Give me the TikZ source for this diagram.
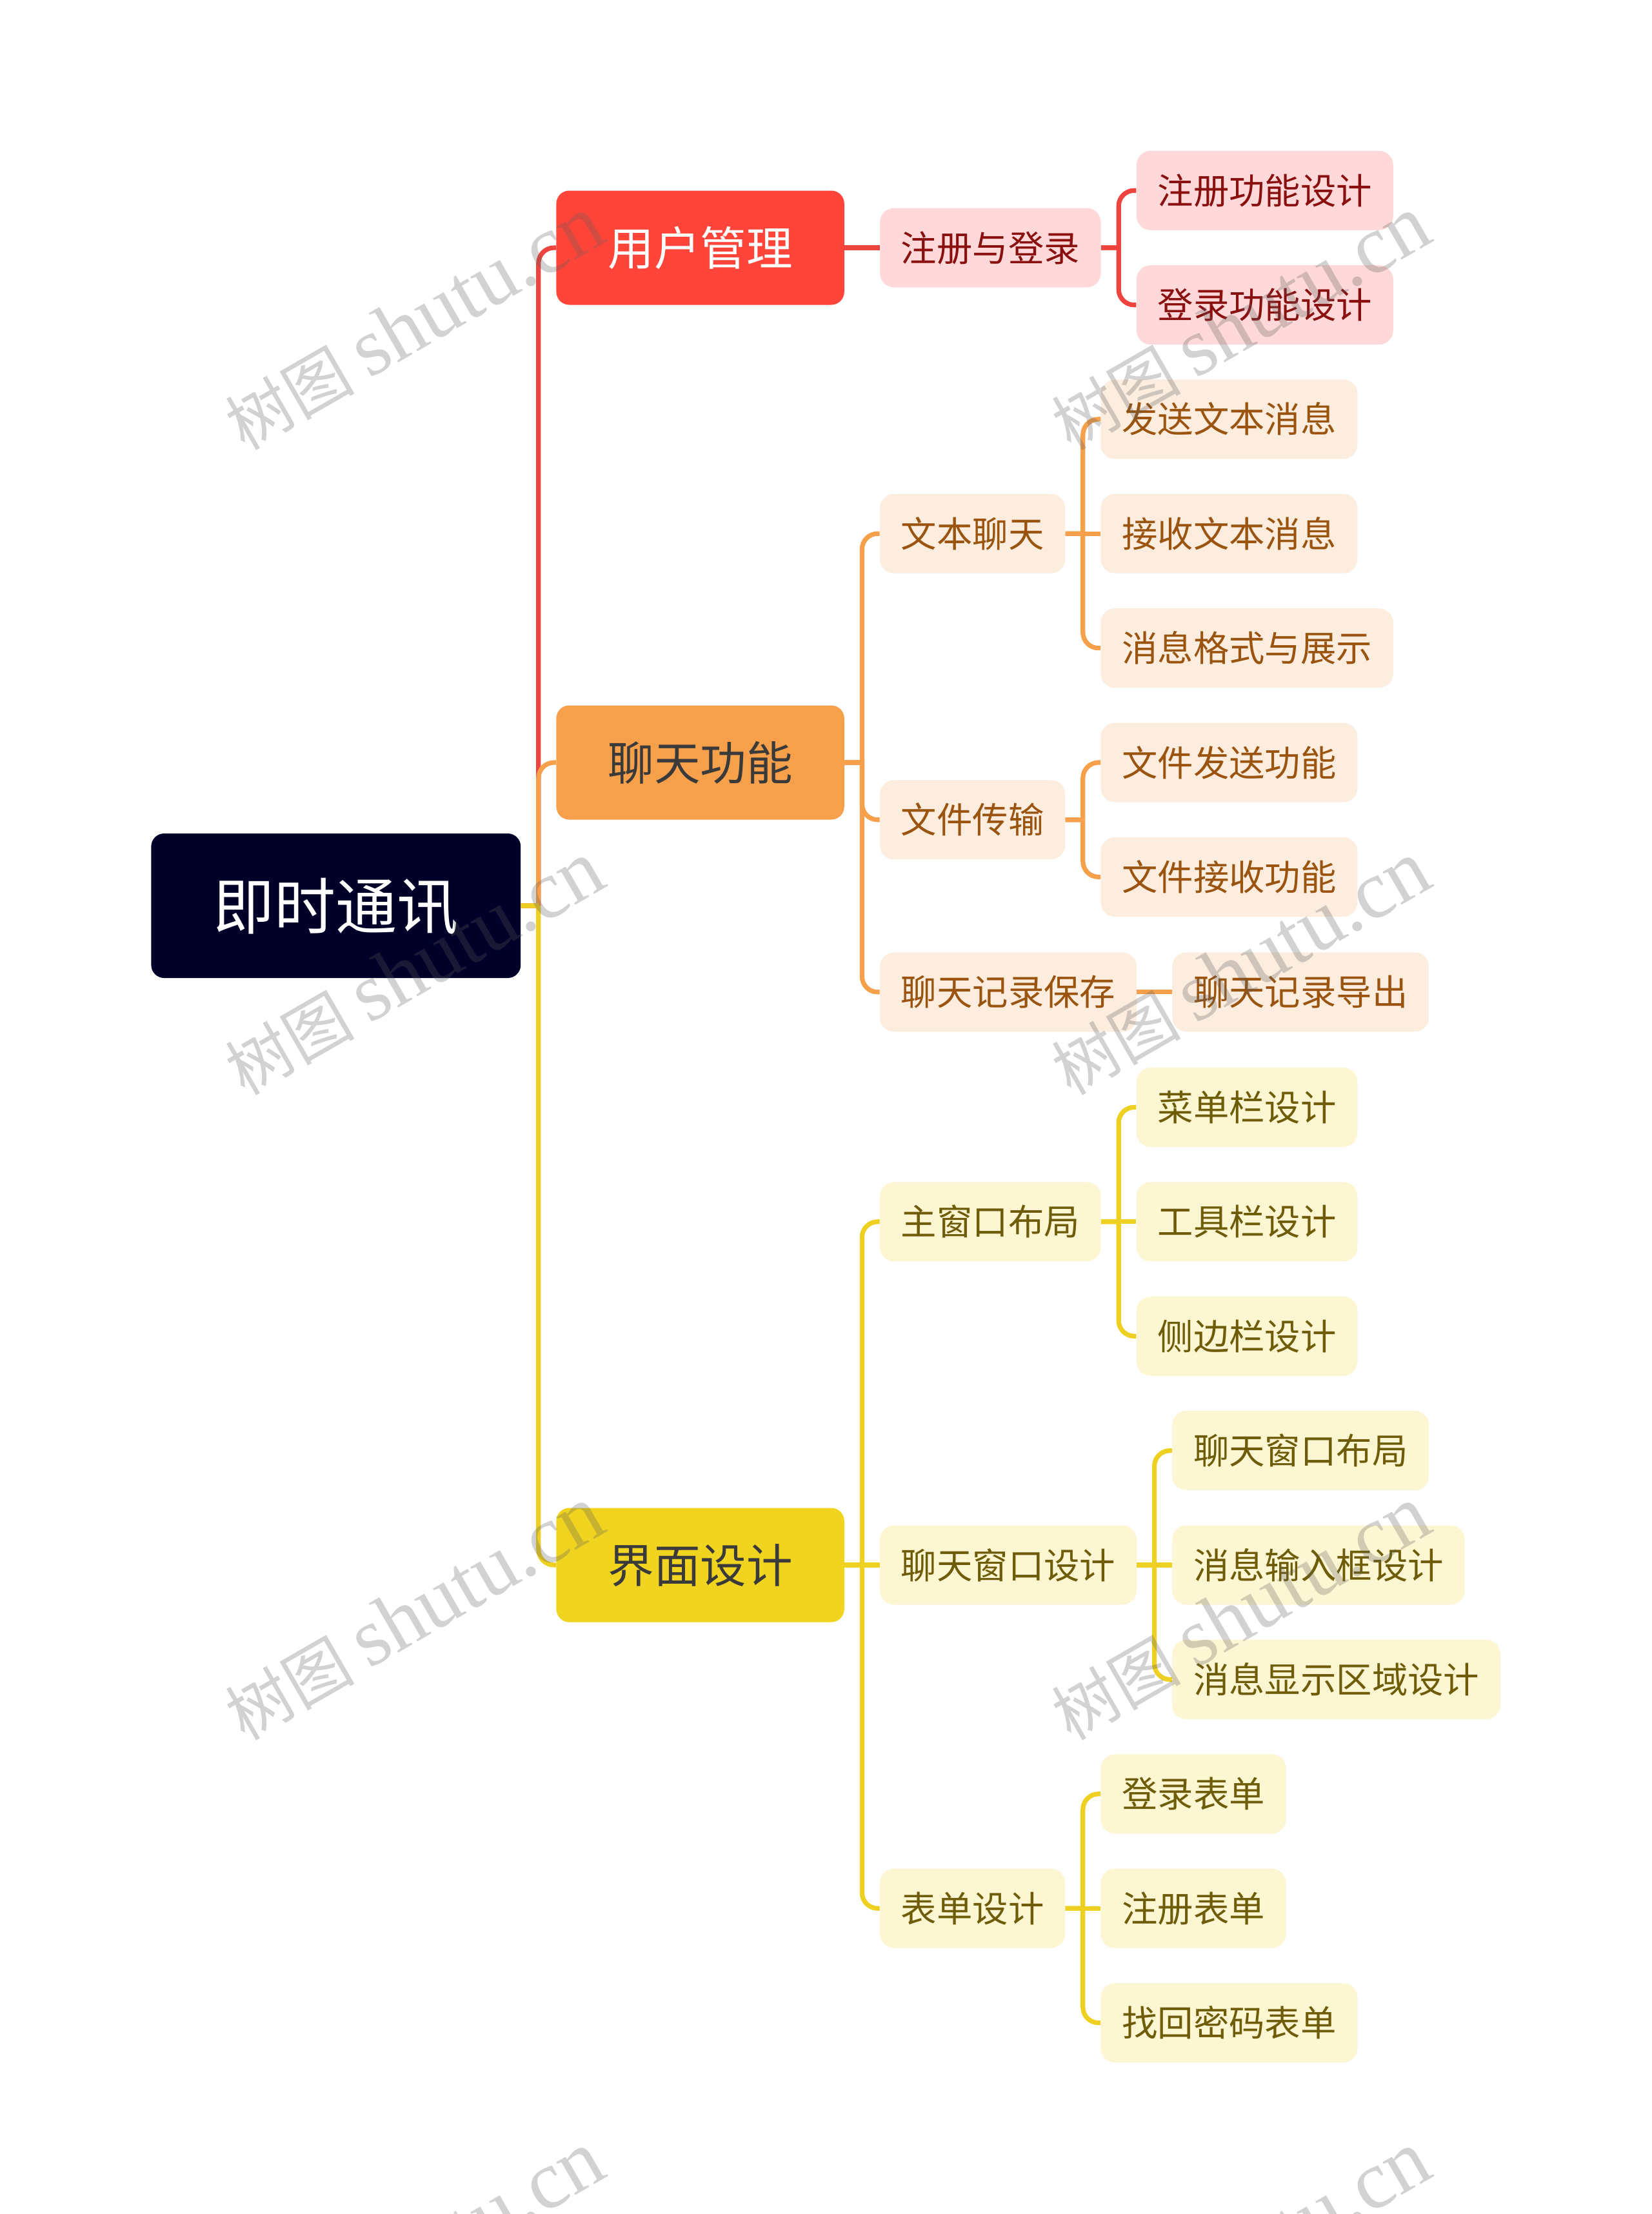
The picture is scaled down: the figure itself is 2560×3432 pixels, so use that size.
\documentclass[tikz,border=0pt]{standalone}
\usepackage{fontspec}
\setmainfont{Noto Sans CJK SC}
\newfontfamily\wmfont{Liberation Serif}
\usetikzlibrary{
  positioning,
}
\definecolor{rootfill}{HTML}{000028}
\definecolor{redmain}{HTML}{FF4539}
\definecolor{redline}{HTML}{EE4440}
\definecolor{redleaf}{HTML}{FFD9D9}
\definecolor{redtext}{HTML}{8A1010}
\definecolor{orangemain}{HTML}{F6A04B}
\definecolor{orangeleaf}{HTML}{FCEDDE}
\definecolor{orangetext}{HTML}{9A5410}
\definecolor{yellowmain}{HTML}{F1D420}
\definecolor{yellowline}{HTML}{EDD022}
\definecolor{yellowleaf}{HTML}{FDF6D3}
\definecolor{yellowtext}{HTML}{6E5C08}
\definecolor{maintext}{HTML}{3A3A3A}
\definecolor{wmgray}{HTML}{5C5C5C}
\tikzset{
  node distance=27.2pt,
  rootbox/.style={fill=rootfill, text=white, rounded corners=10pt, font=\fontsize{47.5}{50}\selectfont,
    text height=41.8pt, text depth=5.7pt, minimum height=112pt, inner xsep=48.2pt, inner ysep=0pt},
  mainbox/.style={fill=#1, rounded corners=10pt, font=\fontsize{35.8}{38}\selectfont,
    text height=31.5pt, text depth=4.3pt, minimum height=88.5pt, inner xsep=40pt, inner ysep=0pt},
  leafbox/.style={rounded corners=11pt, font=\fontsize{27.7}{30}\selectfont,
    text height=24.4pt, text depth=3.3pt, minimum height=61.5pt, inner xsep=16.4pt, inner ysep=0pt},
  redbox/.style={leafbox, fill=redleaf, text=redtext},
  orangebox/.style={leafbox, fill=orangeleaf, text=orangetext},
  yellowbox/.style={leafbox, fill=yellowleaf, text=yellowtext},
  link/.style={line width=3.6pt, rounded corners=12pt},
  branch/.style={to path={-- ++(13.6pt,0) ++(0,0) |- (\tikztotarget.west)}},
  watermark/.style={text=wmgray, text opacity=0.28, rotate=30, font=\fontsize{50}{60}\selectfont},
}

\begin{document}
\begin{tikzpicture}[x=0.5pt, y=-0.5pt]
  \useasboundingbox (0,0) rectangle (2560,3432);

  \node [rootbox, anchor=west] (R) at (234,1404) {即时通讯};
  \node [mainbox=redmain, text=white, right=of R, yshift=510pt] (U) {用户管理};
  \node [mainbox=orangemain, text=maintext, right=of R, yshift=111pt] (C) {聊天功能};
  \node [mainbox=yellowmain, text=maintext, right=of R, yshift=-511pt] (D) {界面设计};

  \node [redbox, right=of U] (UR) {注册与登录};
  \node [redbox, right=of UR, yshift=44.35pt] (UR1) {注册功能设计};
  \node [redbox, right=of UR, yshift=-44.35pt] (UR2) {登录功能设计};

  \node [orangebox, right=of C, yshift=177.4pt] (CT) {文本聊天};
  \node [orangebox, right=of CT, yshift=88.7pt] (CT1) {发送文本消息};
  \node [orangebox, right=of CT] (CT2) {接收文本消息};
  \node [orangebox, right=of CT, yshift=-88.7pt] (CT3) {消息格式与展示};
  \node [orangebox, right=of C, yshift=-44.35pt] (CF) {文件传输};
  \node [orangebox, right=of CF, yshift=44.35pt] (CF1) {文件发送功能};
  \node [orangebox, right=of CF, yshift=-44.35pt] (CF2) {文件接收功能};
  \node [orangebox, right=of C, yshift=-177.9pt] (CS) {聊天记录保存};
  \node [orangebox, right=of CS] (CS1) {聊天记录导出};

  \node [yellowbox, right=of D, yshift=266.1pt] (DM) {主窗口布局};
  \node [yellowbox, right=of DM, yshift=88.7pt] (DM1) {菜单栏设计};
  \node [yellowbox, right=of DM] (DM2) {工具栏设计};
  \node [yellowbox, right=of DM, yshift=-88.7pt] (DM3) {侧边栏设计};
  \node [yellowbox, right=of D] (DW) {聊天窗口设计};
  \node [yellowbox, right=of DW, yshift=88.7pt] (DW1) {聊天窗口布局};
  \node [yellowbox, right=of DW] (DW2) {消息输入框设计};
  \node [yellowbox, right=of DW, yshift=-88.7pt] (DW3) {消息显示区域设计};
  \node [yellowbox, right=of D, yshift=-266.1pt] (DF) {表单设计};
  \node [yellowbox, right=of DF, yshift=88.7pt] (DF1) {登录表单};
  \node [yellowbox, right=of DF] (DF2) {注册表单};
  \node [yellowbox, right=of DF, yshift=-88.7pt] (DF3) {找回密码表单};

  \draw [link, redline, branch] (R.east) to (U);
  \draw [link, redline] (U.east) -- (UR.west);
  \draw [link, redline, branch] (UR.east) to (UR1);
  \draw [link, redline, branch] (UR.east) to (UR2);

  \draw [link, orangemain, branch] (R.east) to (C);
  \draw [link, orangemain, branch] (C.east) to (CT);
  \draw [link, orangemain, branch] (C.east) to (CF);
  \draw [link, orangemain, branch] (C.east) to (CS);
  \draw [link, orangemain, branch] (CT.east) to (CT1);
  \draw [link, orangemain] (CT.east) -- (CT2.west);
  \draw [link, orangemain, branch] (CT.east) to (CT3);
  \draw [link, orangemain, branch] (CF.east) to (CF1);
  \draw [link, orangemain, branch] (CF.east) to (CF2);
  \draw [link, orangemain] (CS.east) -- (CS1.west);

  \draw [link, yellowline, branch] (R.east) to (D);
  \draw [link, yellowline, branch] (D.east) to (DM);
  \draw [link, yellowline] (D.east) -- (DW.west);
  \draw [link, yellowline, branch] (D.east) to (DF);
  \draw [link, yellowline, branch] (DM.east) to (DM1);
  \draw [link, yellowline] (DM.east) -- (DM2.west);
  \draw [link, yellowline, branch] (DM.east) to (DM3);
  \draw [link, yellowline, branch] (DW.east) to (DW1);
  \draw [link, yellowline] (DW.east) -- (DW2.west);
  \draw [link, yellowline, branch] (DW.east) to (DW3);
  \draw [link, yellowline, branch] (DF.east) to (DF1);
  \draw [link, yellowline] (DF.east) -- (DF2.west);
  \draw [link, yellowline, branch] (DF.east) to (DF3);

  \foreach \x in {642,1923}
    \foreach \y in {501,1501,2501,3501}
      \node [watermark] (M\x-\y) at (\x,\y) {树图 {\wmfont\fontsize{64}{66}\selectfont shutu.cn}};
\end{tikzpicture}
\end{document}
